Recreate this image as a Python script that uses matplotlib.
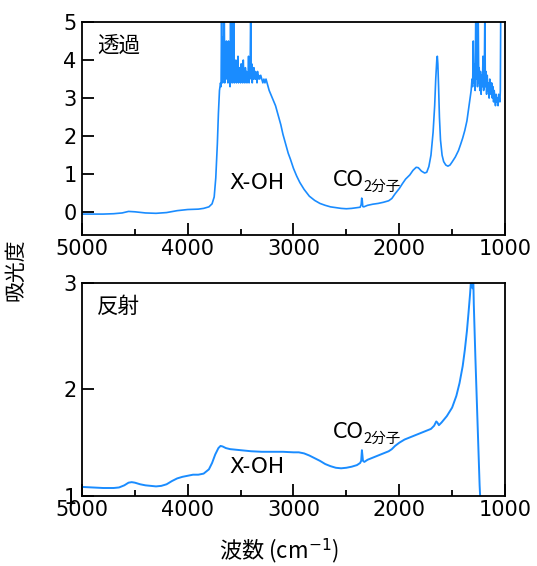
import matplotlib
matplotlib.use("Agg")
import matplotlib.pyplot as plt
from matplotlib.ticker import MultipleLocator

plt.rcParams['font.family'] = ['DejaVu Sans', 'Noto Sans CJK JP']
JP = ['Noto Sans CJK JP', 'DejaVu Sans']

# transmission spectrum (wavenumber, absorbance)
trans_wn = [5000, 4900, 4800, 4700, 4620, 4560, 4500, 4400, 4300, 4200, 4100,
            4000, 3900, 3850, 3800, 3770, 3750, 3735, 3720, 3710, 3700, 3690,
            3685, 3680, 3675, 3670, 3665, 3660, 3655, 3650, 3645, 3640, 3635,
            3630, 3625, 3620, 3615, 3610, 3605, 3600, 3595, 3590, 3585, 3580,
            3575, 3570, 3565, 3560, 3555, 3550, 3545, 3540, 3535, 3530, 3525,
            3520, 3515, 3510, 3505, 3500, 3495, 3490, 3485, 3480, 3475, 3470,
            3465, 3460, 3455, 3450, 3445, 3440, 3435, 3430, 3425, 3420, 3415,
            3410, 3405, 3400, 3395, 3390, 3385, 3380, 3375, 3370, 3365, 3360,
            3355, 3350, 3345, 3340, 3335, 3330, 3320, 3310, 3300, 3290, 3280,
            3270, 3260, 3250, 3230, 3200, 3170, 3150, 3120, 3100, 3070, 3050,
            3030, 3000, 2970, 2940, 2900, 2850, 2800, 2750, 2700, 2650, 2600,
            2550, 2500, 2450, 2400, 2370, 2360, 2355, 2350, 2345, 2335, 2300,
            2250, 2200, 2150, 2100, 2070, 2040, 2000, 1970, 1940, 1900, 1870,
            1840, 1820, 1790, 1760, 1740, 1720, 1700, 1680, 1665, 1655, 1645,
            1640, 1635, 1628, 1620, 1610, 1595, 1580, 1560, 1540, 1520, 1500,
            1470, 1440, 1420, 1400, 1380, 1360, 1345, 1330, 1320, 1312, 1306,
            1300, 1294, 1288, 1282, 1276, 1270, 1265, 1260, 1254, 1248, 1244,
            1238, 1232, 1226, 1220, 1214, 1208, 1202, 1196, 1190, 1186, 1180,
            1174, 1168, 1162, 1156, 1150, 1144, 1138, 1132, 1126, 1120, 1114,
            1108, 1102, 1096, 1090, 1084, 1078, 1072, 1066, 1060, 1054, 1048,
            1044, 1040, 1030, 1000]
trans_abs = [-0.05, -0.05, -0.05, -0.04, -0.02, 0.02, 0.01, -0.02, -0.03,
             -0.01, 0.04, 0.07, 0.08, 0.10, 0.14, 0.22, 0.40, 0.90, 1.80, 2.60,
             3.20, 3.40,
             3.30, 5.40, 3.60, 3.40, 4.60, 3.50, 5.40, 3.40, 4.20, 3.70, 4.50,
             3.50, 3.90, 3.40, 4.50, 3.60, 3.80, 3.30, 5.40, 3.50, 5.40, 3.40,
             4.20, 3.50, 5.40, 3.40, 3.90, 3.50, 4.00, 3.40, 3.70, 3.50, 4.10,
             3.40, 3.80, 3.50, 3.60, 3.40, 3.90, 3.50, 3.70, 3.40, 4.00, 3.60,
             3.50, 3.40, 3.80, 3.50, 3.70, 3.40, 3.60, 3.50, 4.10, 3.40, 3.80,
             3.60, 5.40, 3.50, 3.90, 3.40, 3.70, 3.50, 3.80, 3.60, 3.50, 3.70,
             3.50, 3.60, 3.40, 3.70, 3.50, 3.60, 3.50, 3.60, 3.50, 3.40, 3.50,
             3.40, 3.50, 3.40, 3.20, 3.00, 2.80, 2.60, 2.30, 2.05, 1.75, 1.55,
             1.40, 1.15, 0.95, 0.78, 0.60, 0.42, 0.31, 0.23, 0.18, 0.14, 0.12,
             0.10, 0.09, 0.10, 0.12, 0.13, 0.20, 0.37, 0.32, 0.15, 0.14, 0.18,
             0.21, 0.23, 0.26, 0.30, 0.36, 0.48, 0.62, 0.75, 0.87, 0.98, 1.10,
             1.18, 1.17, 1.08, 1.03, 1.05, 1.20, 1.50, 2.10, 2.80, 3.50, 4.00,
             4.10, 3.90, 3.30, 2.50, 1.90, 1.50, 1.33, 1.24, 1.21, 1.24, 1.32,
             1.45, 1.62, 1.78, 1.95, 2.15, 2.40, 2.70, 3.00, 3.20, 3.50, 3.30,
             4.50, 3.40, 3.90, 3.20, 5.40, 3.50, 5.40, 3.30, 5.40, 3.40, 3.80,
             3.20, 3.70, 3.10, 3.60, 3.30, 4.10, 3.20, 3.50, 5.40, 3.30, 3.70,
             3.10, 3.60, 3.20, 3.40, 3.00, 3.50, 3.20, 3.10, 3.40, 3.00, 3.30,
             2.90, 3.20, 3.00, 2.80, 3.10, 2.90, 3.00, 2.80, 3.10, 3.00, 2.90,
             3.20, 5.40, 5.40, 5.40]

# reflection spectrum (wavenumber, absorbance)
refl_wn = [5000, 4900, 4800, 4700, 4650, 4600, 4560, 4530, 4500, 4450, 4400,
           4300, 4250, 4200, 4150, 4100, 4050, 4000, 3950, 3900, 3850, 3800,
           3770, 3740, 3710, 3690, 3670, 3640, 3600, 3500, 3400, 3300, 3200,
           3100, 3000, 2950, 2900, 2850, 2800, 2750, 2700, 2650, 2600, 2550,
           2500, 2450, 2400, 2370, 2360, 2353, 2348, 2343, 2330, 2300, 2250,
           2200, 2150, 2100, 2070, 2040, 2000, 1950, 1900, 1850, 1800, 1750,
           1700, 1670, 1650, 1640, 1625, 1600, 1550, 1500, 1460, 1430, 1400,
           1380, 1360, 1345, 1330, 1320, 1312, 1306, 1300, 1295, 1280, 1260,
           1240, 1230]
refl_abs = [1.085, 1.080, 1.075, 1.075, 1.080, 1.100, 1.125, 1.130, 1.125,
            1.110, 1.100, 1.090, 1.095, 1.110, 1.140, 1.165, 1.180, 1.190,
            1.200, 1.200, 1.210, 1.250, 1.310, 1.390, 1.450, 1.470, 1.465,
            1.450, 1.440, 1.430, 1.420, 1.415, 1.415, 1.415, 1.410, 1.410,
            1.400, 1.380, 1.355, 1.330, 1.300, 1.280, 1.265, 1.260, 1.265,
            1.275, 1.290, 1.310, 1.330, 1.430, 1.380, 1.330, 1.320, 1.340,
            1.360, 1.380, 1.400, 1.420, 1.440, 1.470, 1.500, 1.530, 1.550,
            1.570, 1.590, 1.610, 1.630, 1.660, 1.700, 1.690, 1.665, 1.690,
            1.750, 1.830, 1.940, 2.060, 2.220, 2.370, 2.550, 2.720, 2.900,
            3.050, 3.100, 2.950, 3.050, 2.800, 2.300, 1.700, 1.100, 0.900]

x_ticks = [5000, 4000, 3000, 2000, 1000]
line_color = '#1a8cff'

fig = plt.figure(figsize=(5.37, 5.66), dpi=100)
ax_t = fig.add_axes([0.1527, 0.5848, 0.7877, 0.3763])
ax_r = fig.add_axes([0.1527, 0.1237, 0.7877, 0.3763])

ax_t.plot(trans_wn, trans_abs, color=line_color, lw=1.2)
ax_r.plot(refl_wn, refl_abs, color=line_color, lw=1.4)

ax_t.set_ylim(-0.6, 5)
ax_t.set_yticks([0, 1, 2, 3, 4, 5])
ax_r.set_ylim(1, 3)
ax_r.set_yticks([1, 2, 3])

for ax in (ax_t, ax_r):
    ax.set_xlim(5000, 1000)
    ax.set_xticks(x_ticks)
    ax.xaxis.set_minor_locator(MultipleLocator(500))
    ax.tick_params(which='major', direction='in', length=8.5, width=1.3,
                   labelsize=15, pad=3)
    ax.tick_params(axis='y', which='major', pad=4)
    ax.tick_params(which='minor', direction='in', length=4, width=1.3)
    for sp in ax.spines.values():
        sp.set_linewidth(1.3)

ax_t.text(0.035, 0.94, '透過', transform=ax_t.transAxes, fontsize=15.5,
          family=JP, va='top', ha='left')
ax_r.text(0.035, 0.94, '反射', transform=ax_r.transAxes, fontsize=15.5,
          family=JP, va='top', ha='left')

ax_t.text(3610, 0.78, 'X-OH', fontsize=15.5, ha='left', va='center')
ax_r.text(3610, 1.27, 'X-OH', fontsize=15.5, ha='left', va='center')

# CO2 label with a smaller "2分子" subscript
for ax, y in ((ax_t, 0.85), (ax_r, 1.6)):
    co = ax.text(2630, y, 'CO', fontsize=15, ha='left', va='center')
    ax.annotate('2分子', xy=(1, 0.15), xycoords=co, fontsize=10.5,
                family=JP, ha='left', va='center')

fig.text(0.028, 0.523, '吸光度', rotation=90, fontsize=15, family=JP,
         ha='center', va='center')
fig.text(0.52, 0.027, '波数 (cm$^{-1}$)', fontsize=16, family=JP,
         ha='center', va='center')

fig.savefig('out.png', dpi=100)
